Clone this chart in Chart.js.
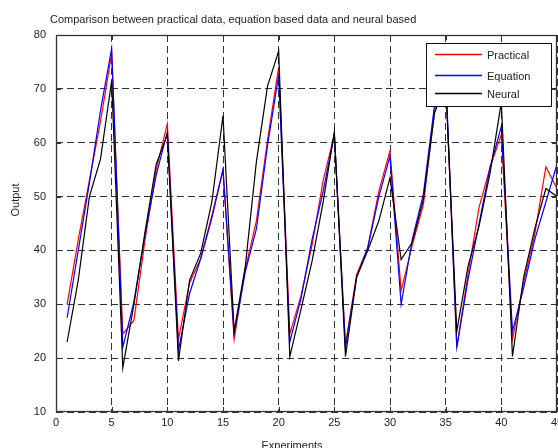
<!DOCTYPE html>
<html>
<head>
<meta charset="utf-8">
<script src="https://cdn.jsdelivr.net/npm/chart.js@4.4.0/dist/chart.umd.min.js"></script>
<style>
  body { margin: 0; background: #fff; }
  #wrap { width: 558px; height: 448px; }
</style>
</head>
<body>
<div id="wrap"><canvas id="cmp" width="558" height="448"></canvas></div>
<script>
// experiment number on x, output on y
const experiments = [1, 2, 3, 4, 5, 6, 7, 8, 9, 10, 11, 12, 13, 14, 15, 16, 17, 18, 19, 20, 21, 22, 23,
  24, 25, 26, 27, 28, 29, 30, 31, 32, 33, 34, 35, 36, 37, 38, 39, 40, 41, 42, 43, 44, 45];

const practical = [30, 42, 53, 64, 76.5, 24.5, 27, 42, 55, 63.5, 23.5, 34, 38.5, 46.5, 55, 23.5, 36.5, 45.5, 60.5, 74,
  24.5, 31.5, 41, 53, 61.5, 22.5, 35.5, 40.5, 51, 58.5, 32.5, 41, 48.5, 66, 72, 22, 35.5, 48, 55.5, 61.5,
  23.5, 34, 43, 55.5, 51.5];

const equation = [27.5, 40, 52.5, 66, 77.5, 22, 30.5, 43, 54, 62, 21.5, 32, 38.5, 46, 55, 24.5, 36, 44, 59.5, 72.5,
  23, 31, 42, 51, 61.5, 22, 35, 40.5, 50, 57.5, 30, 42, 50.5, 67, 73, 22, 34.5, 45, 55.5, 63,
  25, 33, 42, 49, 56];

const neural = [23, 34.5, 50, 57, 71.5, 18.2, 30, 43.5, 56, 61.5, 19.5, 34.5, 39.5, 49, 65, 25, 37, 56.5, 70.5, 77,
  20.3, 29, 38, 49, 62, 20.3, 35, 40, 45.5, 53.5, 38.3, 41.5, 49.5, 65.5, 71, 25, 37, 44.5, 54.5, 67.5,
  20.3, 35, 44, 51.5, 50];

const seriesNames = ['Practical', 'Equation', 'Neural'];
const seriesColors = ['#ff0000', '#0000ff', '#000000'];

const xTicks = [0, 5, 10, 15, 20, 25, 30, 35, 40, 45];
const yTicks = [10, 20, 30, 40, 50, 60, 70, 80];

const titleText = 'Comparison between practical data, equation based data and neural based';
const xTitle = 'Experiments';
const yTitle = 'Output';

const FONT = '"Liberation Sans", Arial, sans-serif';
const INK = '#222';

const toPoints = (vals) => vals.map((v, i) => ({ x: experiments[i], y: v }));

// box, inward ticks, legend and axis titles drawn straight on the canvas
const framePlugin = {
  id: 'frame',
  afterDatasetsDraw(chart) {
    const { ctx, chartArea: a, scales } = chart;
    const xs = scales.x, ys = scales.y;
    ctx.save();
    ctx.strokeStyle = '#333';
    ctx.lineWidth = 1;
    ctx.setLineDash([]);

    ctx.beginPath();
    xTicks.forEach(v => {
      const px = Math.round(xs.getPixelForValue(v)) + 0.5;
      ctx.moveTo(px, a.bottom); ctx.lineTo(px, a.bottom - 5);
      ctx.moveTo(px, a.top); ctx.lineTo(px, a.top + 5);
    });
    yTicks.forEach(v => {
      const py = Math.round(ys.getPixelForValue(v)) + 0.5;
      ctx.moveTo(a.left, py); ctx.lineTo(a.left + 5, py);
      ctx.moveTo(a.right, py); ctx.lineTo(a.right - 5, py);
    });
    ctx.stroke();
    ctx.lineWidth = 1.3;
    ctx.strokeRect(a.left + 0.5, a.top + 0.5, a.right - a.left - 1, a.bottom - a.top - 1);

    // legend box
    const lx = 426, ly = 43, lw = 125, lh = 63;
    ctx.fillStyle = '#fff';
    ctx.fillRect(lx, ly, lw, lh);
    ctx.lineWidth = 1;
    ctx.strokeStyle = '#111';
    ctx.strokeRect(lx + 0.5, ly + 0.5, lw, lh);
    const rows = [54.5, 75.5, 93.5];
    ctx.font = '11px ' + FONT;
    ctx.textBaseline = 'middle';
    ctx.textAlign = 'left';
    ctx.lineWidth = 1.4;
    seriesNames.forEach((name, i) => {
      ctx.beginPath();
      ctx.strokeStyle = seriesColors[i];
      ctx.moveTo(435, rows[i]);
      ctx.lineTo(482, rows[i]);
      ctx.stroke();
      ctx.fillStyle = INK;
      ctx.fillText(name, 487, rows[i] + 1);
    });
    ctx.restore();
  },
  afterDraw(chart) {
    const { ctx } = chart;
    ctx.save();
    ctx.fillStyle = INK;
    ctx.textBaseline = 'middle';
    ctx.font = '11px ' + FONT;
    ctx.textAlign = 'left';
    ctx.fillText(titleText, 50, 20);
    ctx.textAlign = 'center';
    ctx.fillText(xTitle, 292, 446);
    ctx.translate(16, 200);
    ctx.rotate(-Math.PI / 2);
    ctx.fillText(yTitle, 0, 0);
    ctx.restore();
  }
};

const gridStyle = { color: '#333', lineWidth: 1, drawTicks: false };

new Chart(document.getElementById('cmp'), {
  type: 'line',
  data: {
    datasets: [
      { label: seriesNames[0], data: toPoints(practical), borderColor: seriesColors[0], order: 3 },
      { label: seriesNames[1], data: toPoints(equation), borderColor: seriesColors[1], order: 2 },
      { label: seriesNames[2], data: toPoints(neural), borderColor: seriesColors[2], order: 1 }
    ]
  },
  options: {
    responsive: false,
    animation: false,
    layout: { padding: { top: 35, right: 1, left: 0, bottom: 0 } },
    elements: {
      line: { borderWidth: 1.2, tension: 0, fill: false },
      point: { radius: 0 }
    },
    plugins: {
      legend: { display: false },
      title: { display: false },
      tooltip: { enabled: false }
    },
    scales: {
      x: {
        type: 'linear',
        min: 0, max: 45,
        grid: gridStyle,
        border: { display: false, dash: [7, 4] },
        ticks: { padding: 4, color: INK, font: { family: FONT, size: 11 }, maxRotation: 0 },
        afterBuildTicks: s => { s.ticks = xTicks.map(v => ({ value: v })); },
        afterFit: s => { s.height = 36; s.paddingLeft = 0; s.paddingRight = 0; }
      },
      y: {
        min: 10, max: 80,
        grid: gridStyle,
        border: { display: false, dash: [7, 4] },
        ticks: { padding: 10, color: INK, font: { family: FONT, size: 11 } },
        afterBuildTicks: s => { s.ticks = yTicks.map(v => ({ value: v })); },
        afterFit: s => { s.width = 56; s.paddingTop = 0; s.paddingBottom = 0; }
      }
    }
  },
  plugins: [framePlugin]
});
</script>
</body>
</html>
